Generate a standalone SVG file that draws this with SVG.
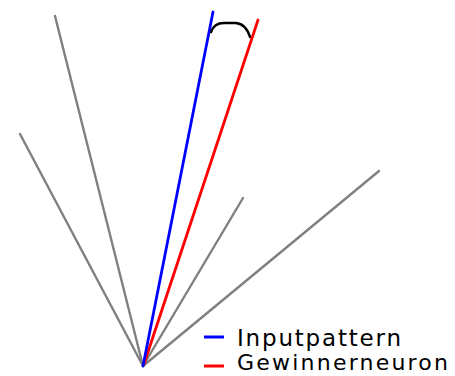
<svg xmlns="http://www.w3.org/2000/svg" width="455" height="376" viewBox="0 0 455 376">
<style>
.v{stroke-width:2.4;stroke-linecap:round;fill:none}
.c{stroke-width:2.8}
.g{stroke:#808080}
.b{stroke:#0000ff}
.r{stroke:#ff0000}
.t{font-family:"DejaVu Sans",Verdana,sans-serif;font-size:23px;fill:#000}
</style>
<rect width="455" height="376" fill="#fff"/>
<g id="connectors">
<line class="v g" x1="143" y1="366" x2="55" y2="16"/>
<line class="v g" x1="143" y1="366" x2="20" y2="134"/>
<line class="v g" x1="143" y1="366" x2="243" y2="198"/>
<line class="v g" x1="143" y1="366" x2="379" y2="171"/>
<line class="v c r" x1="144" y1="364" x2="258" y2="20"/>
<line class="v c b" x1="143" y1="366" x2="213" y2="12"/>
<path class="v" stroke="#000" stroke-width="2.8" d="M211,32 Q214,23 224,23 L236,23 Q246,24 250,37"/>
</g>
<g id="legend-input">
<line x1="204" y1="337" x2="224" y2="337" stroke="#0000ff" stroke-width="3"/>
<text class="t" x="237" y="346" textLength="164" lengthAdjust="spacing">Inputpattern</text>
</g>
<g id="legend-winner">
<line x1="204" y1="366" x2="224" y2="366" stroke="#ff0000" stroke-width="3"/>
<text class="t" x="237" y="370" font-size="22" style="font-size:22px" textLength="211" lengthAdjust="spacing">Gewinnerneuron</text>
</g>
</svg>
